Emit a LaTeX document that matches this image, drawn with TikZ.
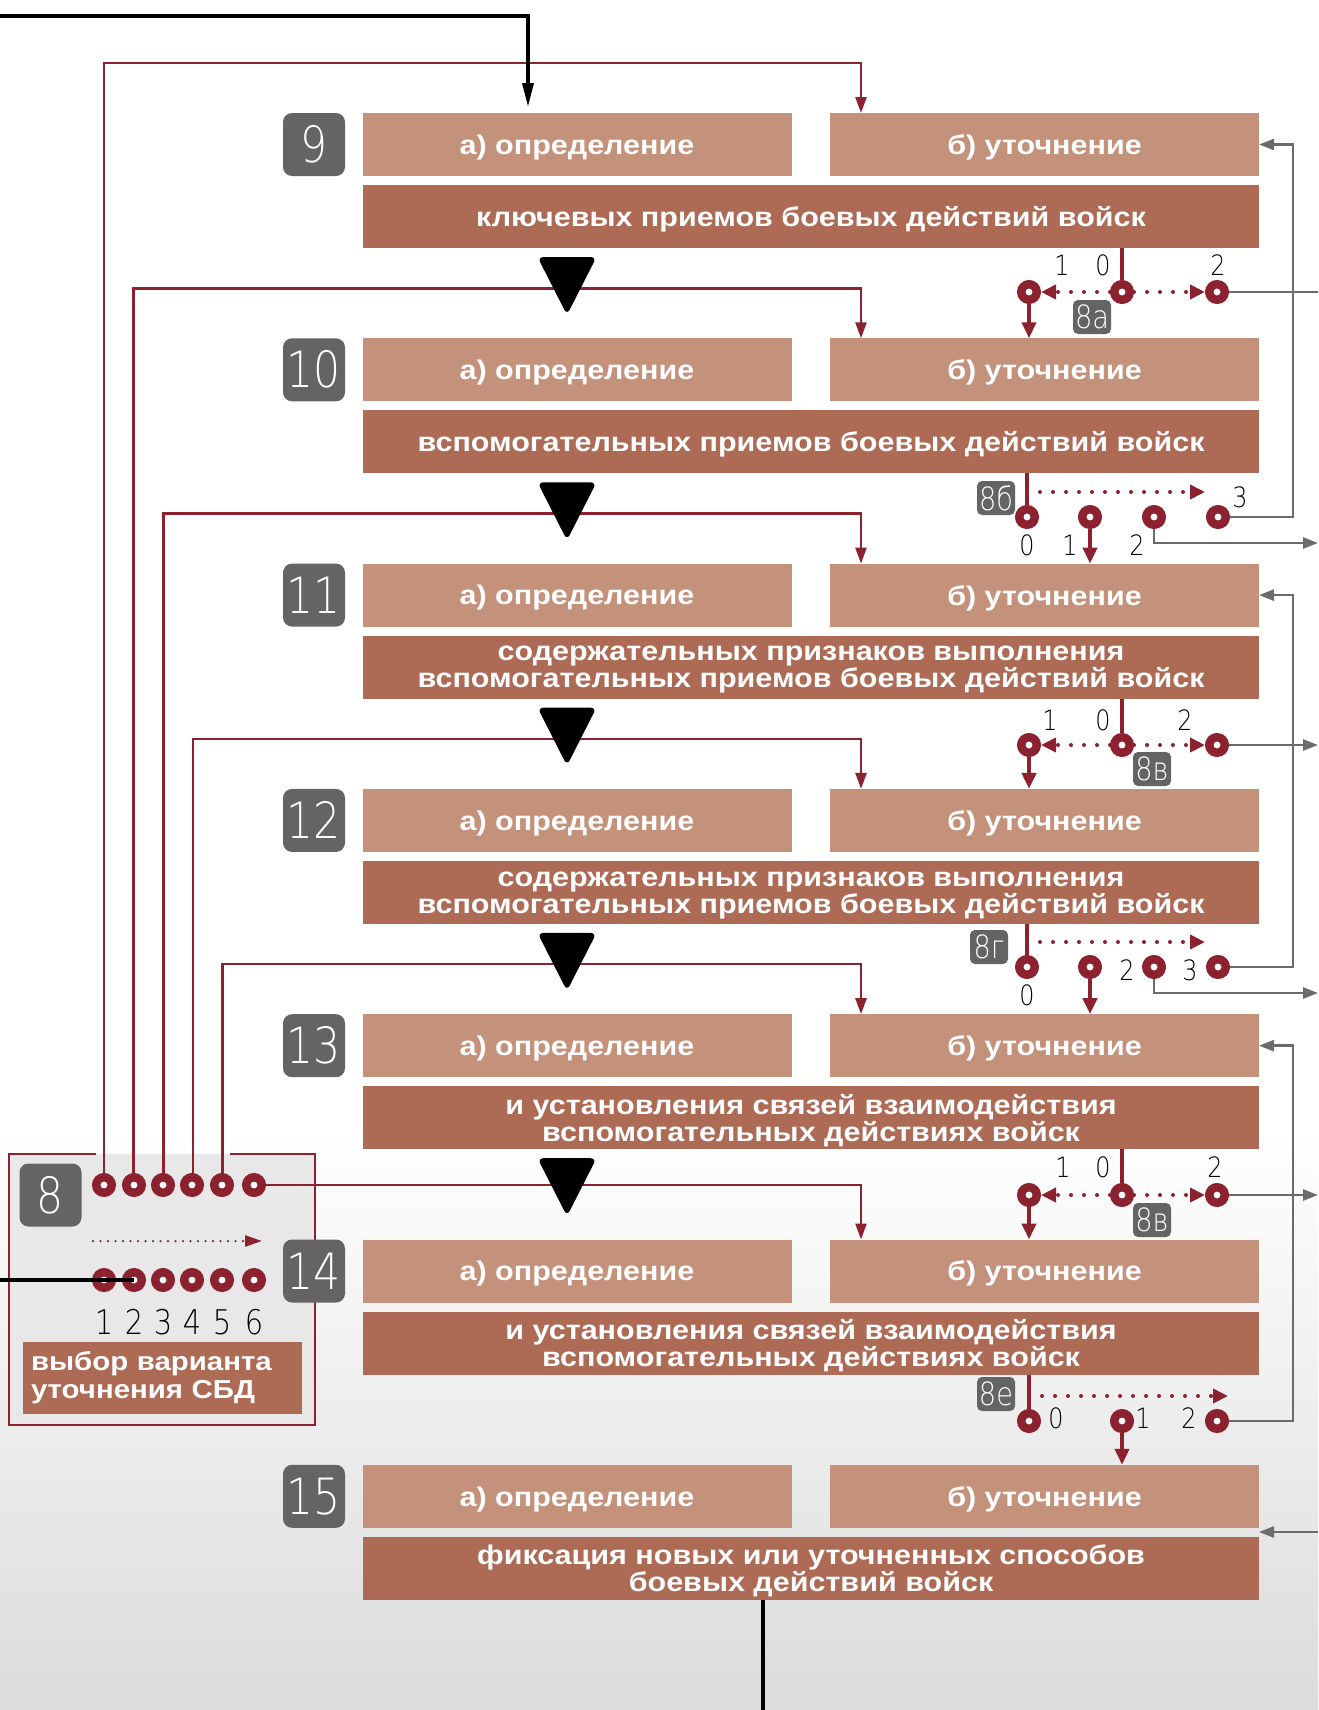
\documentclass[tikz,border=0pt]{standalone}
\usepackage{fontspec}
\setmainfont{Liberation Sans}[FakeStretch=1.13]
\newfontfamily\thinfont{DejaVu Sans ExtraLight}[FakeStretch=0.85]
\usetikzlibrary{arrows.meta}

\definecolor{cLight}{HTML}{C4917A}
\definecolor{cDark}{HTML}{AD6B55}
\definecolor{cRed}{HTML}{8C2230}
\definecolor{cBadge}{HTML}{646464}
\definecolor{cLine}{HTML}{6B6B6B}
\definecolor{cFrame}{HTML}{E8E8E8}

\tikzset{
  main/.style     = {inner sep=0pt, outer sep=0pt, text=white, text centered, text depth=0pt, font=\bfseries\fontsize{27}{27}\selectfont},
  lightbox/.style = {main, fill=cLight, minimum width=429, minimum height=63},
  darkbox/.style  = {main, fill=cDark, minimum width=896, minimum height=63, align=center},
  choice/.style   = {inner sep=0pt, inner xsep=8pt, outer sep=0pt, text=white, fill=cDark, minimum height=72, text width=263, align=left, font=\bfseries\fontsize{26}{28}\selectfont},
  badge/.style    = {fill=cBadge, rounded corners=9, inner sep=0pt, text=white, minimum width=62, minimum height=63, font=\thinfont\fontsize{50}{50}\selectfont},
  tag/.style      = {fill=cBadge, rounded corners=5, inner sep=0pt, text=white, minimum width=38, minimum height=34, font=\thinfont\fontsize{32}{32}\selectfont},
  num/.style      = {inner sep=0pt, font=\thinfont\fontsize{28}{28}\selectfont},
  contact/.style  = {circle, draw=cRed, line width=8.5, fill=white, minimum size=15.5, inner sep=0pt},
  rline/.style    = {draw=cRed, line width=2.5},
  rarrow/.style   = {rline, -{Triangle[length=16pt, width=11pt]}},
  stem/.style     = {draw=cRed, line width=4.5},
  sarrow/.style   = {stem, -{Triangle[length=16pt, width=14pt]}},
  dots/.style     = {draw=cRed, line width=4, line cap=round, dash pattern=on 0pt off 13pt, -{Triangle[length=15pt, width=14pt]}},
  gline/.style    = {draw=cLine, line width=2.5},
  garrow/.style   = {gline, -{Triangle[length=15pt, width=11pt]}},
  blk/.style      = {draw=black, line width=3.5},
}

\begin{document}
\begin{tikzpicture}[x=1pt, y=-1pt]
  \useasboundingbox (0,0) rectangle (1318,1710);
  \fill[white] (0,0) rectangle (1318,1710);
  \shade[top color=white, bottom color=black!14] (0,1130) rectangle (1318,1710);

  % block 8 frame
  \node[fill=cFrame, minimum width=306, minimum height=271, inner sep=0pt] (f8) at (162,1289.5) {};
  \draw[rline] ([xshift=87]f8.north west) -- (f8.north west) -- (f8.south west)
    -- (f8.south east) -- (f8.north east) -- ([xshift=-85]f8.north east);

  % rows 9..15
  \foreach \n/\txt [count=\k from 0] in {
      9/{ключевых приемов боевых действий войск},
      10/{вспомогательных приемов боевых действий войск},
      11/{содержательных признаков выполнения\\вспомогательных приемов боевых действий войск},
      12/{содержательных признаков выполнения\\вспомогательных приемов боевых действий войск},
      13/{и установления связей взаимодействия\\вспомогательных действиях войск},
      14/{и установления связей взаимодействия\\вспомогательных действиях войск},
      15/{фиксация новых или уточненных способов\\боевых действий войск}}{
    \node[badge]    (n\n) at (314, 144.5+225.3*\k) {\n};
    \node[lightbox] (a\n) at (577, 144.5+225.3*\k) {а) определение};
    \node[lightbox] (b\n) at (1044.5, 144.5+225.3*\k) {б) уточнение};
    \node[darkbox]  (d\n) at (811, 216.5+225.3*\k) {\txt};
  }

  % block 8
  \node[badge] (n8) at (50.5,1195) {8};
  \node[choice] (v8) at (162.5,1378) {выбор варианта\\уточнения СБД};

  % loops back to the rows
  \coordinate (col) at (861,0);
  \foreach \i/\n [count=\k from 0] in {1/9,2/10,3/11,4/12,5/13}{
    \coordinate (l\n) at (861, 63+225.3*\k);
    \draw[rarrow] (\i*29.6+74.5,1185) |- (l\n) -- (l\n |- b\n.north);
  }
  \draw[rarrow] (254,1185) -| (col |- b14.north);

  \foreach \i/\x in {1/104,2/134,3/163,4/192,5/222,6/254}{
    \node[contact] (up\i) at (\x,1185) {};
    \node[contact] (lo\i) at (\x,1280) {};
    \node[num, font=\thinfont\fontsize{34}{34}\selectfont] (lb\i) at (\x,1322) {\i};
  }
  \coordinate (p8s) at (93,1241);
  \coordinate (p8e) at (262,1241);
  \draw[dots, line width=2.5, dash pattern=on 0pt off 7.5pt, -{Triangle[length=17pt, width=11pt]}] (p8s) -- (p8e);

  % flow triangles
  \foreach \k in {0,...,4}
    \fill[black, rounded corners=6] (537.5, 257+225.3*\k) -- (596.5, 257+225.3*\k) -- (567, 315+225.3*\k) -- cycle;

  \coordinate (rail) at (1293,0);

  % 8a
  \node[contact] (s9z) at (1122,292) {};
  \node[contact] (s9a) at (1029,292) {};
  \node[contact] (s9b) at (1217,292) {};
  \node[num] (t9a) at (1062,265) {1};
  \node[num] (t9z) at (1103,265) {0};
  \node[num] (t9b) at (1218,265) {2};
  \node[tag] (g9) at (1092,317) {8а};
  \draw[stem] (d9.south -| s9z) -- (s9z);
  \draw[dots] (s9z) -- (s9a);
  \draw[dots] (s9z) -- (s9b);
  \draw[sarrow] (s9a) -- (s9a |- b10.north);
  \coordinate (e9) at (1318,292);
  \draw[gline] (s9b) -- (e9);

  % 8b
  \node[contact] (s10z) at (1027,517) {};
  \node[contact] (s10a) at (1090,517) {};
  \node[contact] (s10b) at (1154,517) {};
  \node[contact] (s10c) at (1218,517) {};
  \node[num] (t10z) at (1027,545) {0};
  \node[num] (t10a) at (1070,545) {1};
  \node[num] (t10b) at (1137,545) {2};
  \node[num] (t10c) at (1240,497) {3};
  \node[tag] (g10) at (996,498) {8б};
  \draw[stem] (d10.south -| s10z) -- (s10z);
  \coordinate (q10) at (1205,492);
  \draw[dots] (s10z |- q10) -- (q10);
  \draw[sarrow] (s10a) -- (s10a |- b11.north);
  \coordinate (e10) at (1318,543);
  \draw[garrow] (s10b) |- (e10);
  \draw[garrow] (s10c) -| (rail |- b9.east) -- (b9.east);

  % 8v
  \node[contact] (s11z) at (1122,745) {};
  \node[contact] (s11a) at (1029,745) {};
  \node[contact] (s11b) at (1217,745) {};
  \node[num] (t11a) at (1050,720) {1};
  \node[num] (t11z) at (1103,720) {0};
  \node[num] (t11b) at (1185,720) {2};
  \node[tag] (g11) at (1152,769) {8в};
  \draw[stem] (d11.south -| s11z) -- (s11z);
  \draw[dots] (s11z) -- (s11a);
  \draw[dots] (s11z) -- (s11b);
  \draw[sarrow] (s11a) -- (s11a |- b12.north);
  \coordinate (e11) at (1318,745);
  \draw[garrow] (s11b) -- (e11);

  % 8g
  \node[contact] (s12z) at (1027,967) {};
  \node[contact] (s12a) at (1090,967) {};
  \node[contact] (s12b) at (1154,967) {};
  \node[contact] (s12c) at (1218,967) {};
  \node[num] (t12z) at (1027,995) {0};
  \node[num] (t12b) at (1127,970) {2};
  \node[num] (t12c) at (1190,970) {3};
  \node[tag] (g12) at (989,947) {8г};
  \draw[stem] (d12.south -| s12z) -- (s12z);
  \coordinate (q12) at (1205,942);
  \draw[dots] (s12z |- q12) -- (q12);
  \draw[sarrow] (s12a) -- (s12a |- b13.north);
  \coordinate (e12) at (1318,993);
  \draw[garrow] (s12b) |- (e12);
  \draw[garrow] (s12c) -| (rail |- b11.east) -- (b11.east);

  % 8v
  \node[contact] (s13z) at (1122,1195) {};
  \node[contact] (s13a) at (1029,1195) {};
  \node[contact] (s13b) at (1217,1195) {};
  \node[num] (t13a) at (1063,1167) {1};
  \node[num] (t13z) at (1103,1167) {0};
  \node[num] (t13b) at (1215,1167) {2};
  \node[tag] (g13) at (1152,1220) {8в};
  \draw[stem] (d13.south -| s13z) -- (s13z);
  \draw[dots] (s13z) -- (s13a);
  \draw[dots] (s13z) -- (s13b);
  \draw[sarrow] (s13a) -- (s13a |- b14.north);
  \coordinate (e13) at (1318,1195);
  \draw[garrow] (s13b) -- (e13);

  % 8e
  \node[contact] (s14z) at (1029,1421) {};
  \node[contact] (s14a) at (1122,1421) {};
  \node[contact] (s14b) at (1217,1421) {};
  \node[num] (t14z) at (1056,1418) {0};
  \node[num] (t14a) at (1143,1418) {1};
  \node[num] (t14b) at (1189,1418) {2};
  \node[tag] (g14) at (996,1394) {8е};
  \draw[stem] (d14.south -| s14z) -- (s14z);
  \coordinate (q14) at (1228,1396);
  \draw[dots] (s14z |- q14) -- (q14);
  \draw[sarrow] (s14a) -- (s14a |- b15.north);
  \draw[garrow] (s14b) -| (rail |- b13.east) -- (b13.east);

  % in and out
  \coordinate (in15) at (1318,1532);
  \draw[garrow] (in15) -- (in15 -| b15.east);
  \coordinate (out15) at (763,1710);
  \draw[blk] (d15.south -| out15) -- (out15);
  \coordinate (in9) at (0,16);
  \coordinate (k9) at (528,16);
  \draw[blk, -{Triangle[length=24pt, width=11pt]}, shorten >=6pt] (in9) -- (k9) -- (k9 |- a9.north);
  \coordinate (in8) at (0,1280);
  \draw[blk] (in8) -- (lo2.center);
\end{tikzpicture}
\end{document}
